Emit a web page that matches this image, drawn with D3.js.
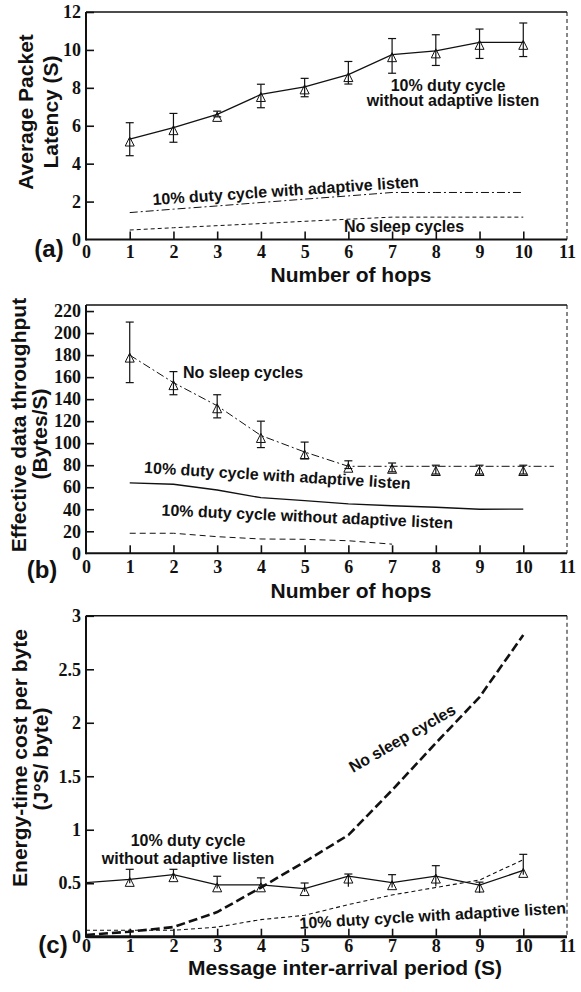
<!DOCTYPE html>
<html>
<head>
<meta charset="utf-8">
<script src="https://cdn.jsdelivr.net/npm/d3@7"></script>
<style>
  body { margin: 0; background: #fff; }
  .lbl { font-family: "Liberation Sans", Arial, sans-serif; font-weight: bold; fill: #111; }
</style>
</head>
<body>
<script>
// ---------------- data ----------------
var hops = [1, 2, 3, 4, 5, 6, 7, 8, 9, 10];
var xTicks = [0, 1, 2, 3, 4, 5, 6, 7, 8, 9, 10, 11];

// (a) average packet latency (S)
var latTicks = [0, 2, 4, 6, 8, 10, 12];
var latNoAdapt   = [5.3, 5.9, 6.6, 7.65, 8.05, 8.7, 9.75, 9.95, 10.4, 10.4];
var latNoAdaptHi = [6.16, 6.65, 6.77, 8.19, 8.5, 9.39, 10.6, 10.8, 11.1, 11.42];
var latNoAdaptLo = [4.42, 5.13, 6.47, 6.95, 7.53, 8.2, 8.77, 9.18, 9.55, 9.65];
var latAdapt     = [1.42, 1.6, 1.77, 1.95, 2.13, 2.3, 2.48, 2.48, 2.48, 2.48];
var latNoSleep   = [0.5, 0.62, 0.73, 0.84, 0.96, 1.07, 1.18, 1.18, 1.18, 1.18];

// (b) effective data throughput (Bytes/S)
var thrTicks = [0, 20, 40, 60, 80, 100, 120, 140, 160, 180, 200, 220];
var thrNoSleep   = [180, 155, 134, 107, 92, 80, 79, 77, 77, 77];
var thrNoSleepHi = [210, 165, 144, 120, 101, 84, 82, 80, 80, 80];
var thrNoSleepLo = [155, 144, 123, 96, 86, 77, 74, 72, 72, 72];
var thrNoSleepFitX = [1, 2, 3, 4, 5, 6, 7, 8, 9, 10, 10.7];
var thrNoSleepFit  = [180, 155, 134, 107, 92, 79, 79, 79, 79, 79, 79];
var thrAdapt   = [64, 62.7, 57.5, 50.5, 47.8, 44.8, 43.2, 41.8, 40, 40.2];
var thrNoAdaptX = [1, 2, 3, 4, 5, 6, 7];
var thrNoAdapt  = [18.2, 18.2, 15.1, 13, 12.7, 11.4, 8.3];

// (c) energy-time cost per byte
var costTicks = [0, 0.5, 1, 1.5, 2, 2.5, 3];
var period = [0, 1, 2, 3, 4, 5, 6, 7, 8, 9, 10];
var costNoSleep  = [0.016, 0.047, 0.09, 0.23, 0.46, 0.7, 0.95, 1.37, 1.81, 2.24, 2.82];
var costAdapt    = [0.06, 0.06, 0.06, 0.09, 0.16, 0.2, 0.3, 0.39, 0.46, 0.53, 0.72];
var costNoAdapt  = [0.505, 0.536, 0.58, 0.485, 0.485, 0.45, 0.567, 0.505, 0.567, 0.483, 0.62];
var costNoAdaptHi = [null, 0.63, 0.63, 0.565, 0.55, 0.502, 0.586, 0.58, 0.664, 0.51, 0.77];
var costNoAdaptLo = [null, 0.5, 0.54, 0.45, 0.45, 0.42, 0.467, 0.46, 0.47, 0.41, 0.58];

// ---------------- chart ----------------
var W = 581, H = 992;
var svg = d3.select("body").append("svg")
  .attr("width", W).attr("height", H)
  .style("background", "#fff");

var x = d3.scaleLinear().domain([0, 11]).range([86, 567]);

function serifTicks(sel) {
  sel.attr("font-family", "'Liberation Serif', 'Times New Roman', serif")
    .attr("font-size", 18).attr("font-weight", "bold");
  sel.selectAll("text")
    .style("font-family", "'Liberation Serif', 'Times New Roman', serif")
    .style("font-size", "18px").style("font-weight", "bold").attr("fill", "#111");
}

function panel(yScale, yTicks, fmt, labelPad, bottomWidth) {
  var g = svg.append("g");
  var y0 = yScale.range()[0], y1 = yScale.range()[1];

  var xa = g.append("g").attr("transform", "translate(0," + y0 + ")")
    .call(d3.axisBottom(x).tickValues(xTicks).tickSizeInner(-8).tickSizeOuter(0).tickPadding(labelPad));
  xa.select(".domain").remove();
  xa.selectAll(".tick").filter(function (d) { return d === 0 || d === 11; }).select("line").remove();
  xa.selectAll(".tick line").attr("stroke", "#111").attr("stroke-width", 1.6);
  serifTicks(xa);

  var ya = g.append("g").attr("transform", "translate(" + x(0) + ",0)")
    .call(d3.axisLeft(yScale).tickValues(yTicks).tickSizeInner(-8).tickSizeOuter(0).tickPadding(5).tickFormat(fmt));
  ya.select(".domain").remove();
  ya.selectAll(".tick").filter(function (d, i) { return i === 0; }).select("line").remove();
  ya.selectAll(".tick line").attr("stroke", "#111").attr("stroke-width", 1.6);
  serifTicks(ya);

  // frame
  g.append("line").attr("x1", x(0)).attr("x2", x(11)).attr("y1", y1).attr("y2", y1)
    .attr("stroke", "#111").attr("stroke-width", 1.4);
  g.append("line").attr("x1", x(11)).attr("x2", x(11)).attr("y1", y1).attr("y2", y0)
    .attr("stroke", "#111").attr("stroke-width", 1).attr("stroke-dasharray", "4,3");
  g.append("line").attr("x1", x(0)).attr("x2", x(0)).attr("y1", y1).attr("y2", y0 + 1)
    .attr("stroke", "#111").attr("stroke-width", 2);
  g.append("line").attr("x1", x(0)).attr("x2", x(11)).attr("y1", y0).attr("y2", y0)
    .attr("stroke", "#111").attr("stroke-width", bottomWidth);
  return g;
}

function series(g, yScale, xs, ys, width, dash) {
  var pts = xs.map(function (d, i) { return [d, ys[i]]; });
  g.append("path").datum(pts)
    .attr("d", d3.line().x(function (d) { return x(d[0]); }).y(function (d) { return yScale(d[1]); }))
    .attr("fill", "none").attr("stroke", "#111").attr("stroke-width", width)
    .attr("stroke-dasharray", dash || null);
}

function errBars(g, yScale, xs, hi, lo, lowCap) {
  xs.forEach(function (d, i) {
    if (hi[i] == null) return;
    var px = x(d);
    g.append("line").attr("x1", px).attr("x2", px).attr("y1", yScale(hi[i])).attr("y2", yScale(lo[i]))
      .attr("stroke", "#111").attr("stroke-width", 1.2);
    g.append("line").attr("x1", px - 4).attr("x2", px + 4).attr("y1", yScale(hi[i])).attr("y2", yScale(hi[i]))
      .attr("stroke", "#111").attr("stroke-width", 1.2);
    if (lowCap) {
      g.append("line").attr("x1", px - 4).attr("x2", px + 4).attr("y1", yScale(lo[i])).attr("y2", yScale(lo[i]))
        .attr("stroke", "#111").attr("stroke-width", 1.2);
    }
  });
}

function markers(g, yScale, xs, ys) {
  xs.forEach(function (d, i) {
    var px = x(d), py = yScale(ys[i]);
    g.append("path")
      .attr("d", "M" + px + "," + (py - 2) + "L" + (px + 4.5) + "," + (py + 7) + "L" + (px - 4.5) + "," + (py + 7) + "Z")
      .attr("fill", "none").attr("stroke", "#111").attr("stroke-width", 1);
  });
}

function label(txt, cx, cy, size, rot, anchor) {
  svg.append("text").attr("class", "lbl")
    .attr("transform", "translate(" + cx + "," + cy + ") rotate(" + (rot || 0) + ")")
    .attr("text-anchor", anchor || "middle")
    .attr("font-size", size)
    .text(txt);
}

// ---- (a) latency ----
var yA = d3.scaleLinear().domain([0, 12]).range([239.5, 12]);
var gA = panel(yA, latTicks, function (d) { return d; }, 6, 2);
series(gA, yA, hops, latNoAdapt, 1.3);
series(gA, yA, hops, latAdapt, 1, "8,3,2,3");
series(gA, yA, hops, latNoSleep, 1, "4,3");
errBars(gA, yA, hops, latNoAdaptHi, latNoAdaptLo, true);
markers(gA, yA, hops, latNoAdapt);

label("10% duty cycle", 448, 91, 16);
label("without adaptive listen", 453, 106, 16);
label("10% duty cycle with adaptive listen", 286, 196, 16, -3.9);
label("No sleep cycles", 404, 232, 16);
label("Average Packet", 33, 112, 21, -90);
label("Latency (S)", 58, 112, 21, -90);
label("Number of hops", 351, 282, 21);
label("(a)", 49, 257, 24);

// ---- (b) throughput ----
var yB = d3.scaleLinear().domain([0, 225.5]).range([553.3, 305]);
var gB = panel(yB, thrTicks, function (d) { return d; }, 7, 2);
series(gB, yB, thrNoSleepFitX, thrNoSleepFit, 1, "8,3,2,3");
series(gB, yB, hops, thrAdapt, 1.3);
series(gB, yB, thrNoAdaptX, thrNoAdapt, 1, "6,4");
errBars(gB, yB, hops, thrNoSleepHi, thrNoSleepLo, true);
markers(gB, yB, hops, thrNoSleep);

label("No sleep cycles", 243, 378, 16);
label("10% duty cycle with adaptive listen", 277, 481, 16, 3.5);
label("10% duty cycle without adaptive listen", 307, 522, 16, 2.6);
label("Effective data throughput", 26, 425, 21, -90);
label("(Bytes/S)", 47, 434, 21, -90);
label("Number of hops", 351, 598, 21);
label("(b)", 42, 578, 24);

// ---- (c) energy-time cost ----
var yC = d3.scaleLinear().domain([0, 3]).range([936.7, 615.8]);
var gC = panel(yC, costTicks, function (d) { return String(d); }, 3, 3);
series(gC, yC, period, costNoSleep, 2.6, "9,4");
series(gC, yC, period, costAdapt, 1.1, "4,3");
series(gC, yC, period, costNoAdapt, 1.3);
errBars(gC, yC, period, costNoAdaptHi, costNoAdaptLo, false);
markers(gC, yC, period.slice(1), costNoAdapt.slice(1));

label("10% duty cycle", 188, 846, 16);
label("without adaptive listen", 188, 864, 16);
label("No sleep cycles", 405, 743, 16, -30);
label("10% duty cycle with adaptive listen", 433, 921, 16, -3.3);
label("Energy-time cost per byte", 27, 758, 21, -90);
label("(J\u00b0S/ byte)", 48, 759, 21, -90);
label("Message inter-arrival period (S)", 345, 975, 21);
label("(c)", 53, 953, 24);
</script>
</body>
</html>
